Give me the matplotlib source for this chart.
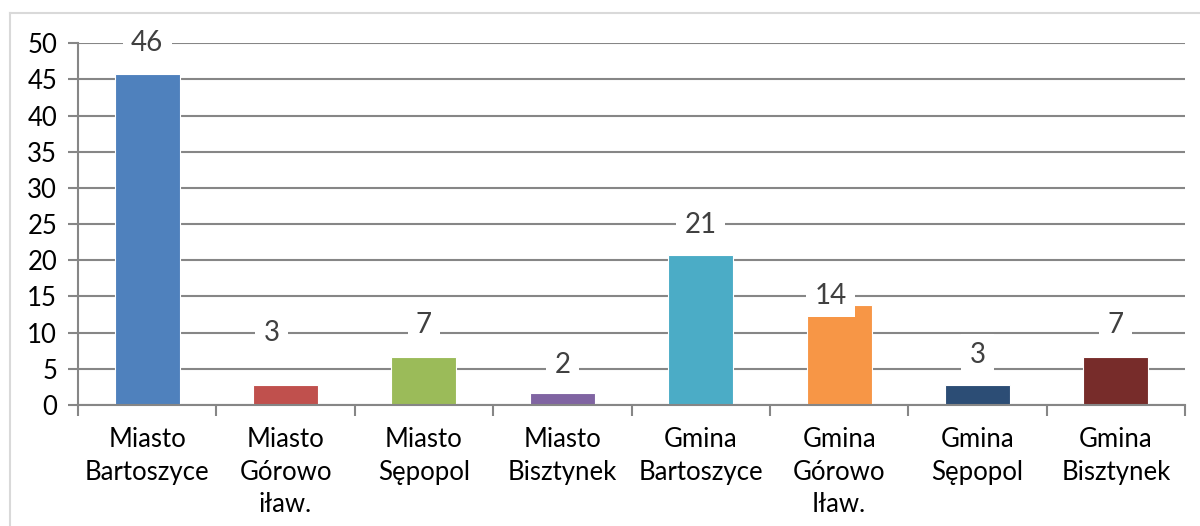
import matplotlib
matplotlib.use("Agg")
import matplotlib.pyplot as plt
from matplotlib.lines import Line2D

plt.rcParams['font.family'] = ['Lato', 'DejaVu Sans']

categories = ["Miasto\nBartoszyce", "Miasto\nGórowo\niław.", "Miasto\nSępopol", "Miasto\nBisztynek",
              "Gmina\nBartoszyce", "Gmina\nGórowo\nIław.", "Gmina\nSępopol", "Gmina\nBisztynek"]
values = [46, 3, 7, 2, 21, 14, 3, 7]
bar_heights = [45.8, 2.7, 6.7, 1.7, 20.7, 13.8, 2.7, 6.7]
label_y = [50.0, 9.9, 11.0, 5.5, 24.9, 15.1, 6.9, 11.0]
label_dx = [0.0, -0.1, 0.0, 0.0, 0.0, -0.06, 0.0, 0.0]
colors = ["#4F81BD", "#C0504D", "#9BBB59", "#8064A2", "#4BACC6", "#F79646", "#2C4D75", "#772C2A"]
yticks = [0, 5, 10, 15, 20, 25, 30, 35, 40, 45, 50]

fig = plt.figure(figsize=(12, 5.26), dpi=100)
ax = fig.add_axes([0.065, 0.23, 0.9225, 0.688])

x = list(range(len(categories)))
ax.bar(x, bar_heights, width=0.47, color=colors, edgecolor='white', linewidth=0.8, zorder=2)

for xi, v, ly, dx in zip(x, values, label_y, label_dx):
    ax.text(xi + dx, ly, str(v), ha='center', va='center', fontsize=20, color='#404040', zorder=4,
            bbox=dict(boxstyle='square,pad=0.3', facecolor='white', edgecolor='none'))

ax.set_xlim(-0.5, len(categories) - 0.5)
ax.set_ylim(0, 50)
ax.set_yticks(yticks)
ax.set_yticklabels([str(t) for t in yticks], fontsize=18.5, color='#000000')
ax.yaxis.grid(True, color='#868686', linewidth=1.5, zorder=1)
ax.set_axisbelow(True)

ax.set_xticks(x)
ax.set_xticklabels(categories, fontsize=18.5, color='#000000', linespacing=1.38, va='top')
ax.tick_params(axis='x', length=0, pad=16)
ax.set_xticks([i - 0.5 for i in range(len(categories) + 1)], minor=True)
ax.tick_params(axis='x', which='minor', length=8, width=1.5, color='#868686', direction='out')
ax.tick_params(axis='y', length=7, width=1.5, color='#868686', direction='out', pad=8)

for s in ['top', 'right']:
    ax.spines[s].set_visible(False)
for s in ['left', 'bottom']:
    ax.spines[s].set_color('#868686')
    ax.spines[s].set_linewidth(1.5)

# chart area border (top and left visible)
fig.add_artist(Line2D([10/1200, 1.0], [1 - 13/526, 1 - 13/526], transform=fig.transFigure, color='#D9D9D9', linewidth=1.5))
fig.add_artist(Line2D([10/1200, 10/1200], [0, 1 - 13/526], transform=fig.transFigure, color='#D9D9D9', linewidth=1.5))

fig.savefig("out.png", dpi=100, facecolor='white')
